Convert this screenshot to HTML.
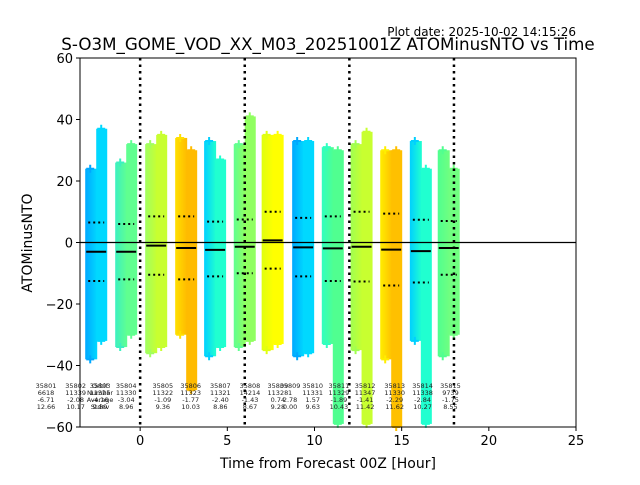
<!DOCTYPE html>
<html><head><meta charset="utf-8"><style>
body{margin:0;background:#fff}
svg text{font-family:"DejaVu Sans","Liberation Sans",sans-serif}
</style></head><body>
<svg id="chart" width="640" height="480" viewBox="0 0 640 480" xmlns="http://www.w3.org/2000/svg">
<text x="576" y="36" font-size="12" text-anchor="end">Plot date: 2025-10-02 14:15:26</text>
<text x="328" y="50" font-size="16.7" text-anchor="middle">S-O3M_GOME_VOD_XX_M03_20251001Z ATOMinusNTO vs Time</text>
<text x="328" y="468" font-size="14" text-anchor="middle">Time from Forecast 00Z [Hour]</text>
<text transform="translate(32,243) rotate(-90)" font-size="14" text-anchor="middle">ATOMinusNTO</text>
<defs id="defs"></defs>
<g id="marks"></g>
<g id="axes"></g>
</svg>
<script>
const hours=[-2.52,-0.8,0.92,2.64,4.3,6.0,7.6,9.35,11.05,12.7,14.4,16.1,17.7];
const means=[-3,-3,-1,-1.8,-2.4,-1.4,0.7,-1.6,-1.9,-1.4,-2.3,-2.8,-1.8];
const stdUp=[6.5,6,8.5,8.5,6.8,7.5,10,8,8.5,10,9.4,7.4,7];
const stdDn=[-12.5,-12,-10.5,-12,-11,-10,-8.5,-11,-12.5,-12.7,-14,-13,-10.5];
const topL=[24,26,32,34,33,32,35,33,31,32,30,33,30];
const botL=[-38,-34,-36,-30,-37,-34,-35,-37,-33,-35,-38,-32,-37];
const topR=[37,32,35,30,27,41,35,33,30,36,30,24,24];
const botR=[-32,-30,-34,-48,-34,-32,-33,-36,-59,-59,-60,-59,-30];
const colL=["#00a8ff","#3cf0c0","#a0ff60","#ffe000","#00d0ff","#60ff90","#e0ff10","#00a8ff","#30ffc0","#a0ff50","#ffee00","#00d0ff","#50ff90"];
const colR=["#00d8ff","#60ff90","#c8ff30","#ffbb00","#20ffd0","#90ff60","#ffff00","#00d8ff","#50ff90","#c8ff30","#ffc000","#20ffd0","#70ff80"];
const xTicks=[0,5,10,15,20,25];
const yTicks=[-60,-40,-20,0,20,40,60];
const vLines=[0,6,12,18];
const orbits=["35801","35802","35803","35804","35805","35806","35807","35808","35809","35809","35810","35811","35812","35813","35814","35815"];
const counts=["6618","11339","11325","11330","11322","11323","11321","14214","11328","1","11331","11329","11347","11330","11338","9739"];
const avgs=["-6.71","-2.08","-4.16","-3.04","-1.09","-1.77","-2.40","-1.43","0.74","2.78","1.57","-1.89","-1.41","-2.29","-2.84","-1.75"];
const stds=["12.66","10.17","9.89","8.96","9.36","10.03","8.86","8.67","9.28","0.00","9.63","10.43","11.42","11.62","10.27","8.55"];
const labelHours=[-5.4,-3.7,-2.3,-0.8,1.3,2.9,4.6,6.3,7.9,8.6,9.9,11.4,12.9,14.6,16.2,17.8];

const L=80,R=576,T=58,B=427,xmin=-3.45,xmax=25,ymin=-60,ymax=60;
const X=v=>L+(v-xmin)/(xmax-xmin)*(R-L);
const Y=v=>B-(v-ymin)/(ymax-ymin)*(B-T);
const NS="http://www.w3.org/2000/svg";
const mk=(tag,attrs,parent)=>{const e=document.createElementNS(NS,tag);for(const k in attrs)e.setAttribute(k,attrs[k]);parent.appendChild(e);return e;};
const marks=document.getElementById('marks'),axes=document.getElementById('axes'),defs=document.getElementById('defs');

hours.forEach((h,i)=>{
  const cx=X(h);
  const g=mk('linearGradient',{id:'g'+i,x1:0,x2:1,y1:0,y2:0},defs);
  mk('stop',{offset:0,'stop-color':colL[i]},g);mk('stop',{offset:1,'stop-color':colR[i]},g);
  const grp=mk('g',{},marks);
  
  
  const l=mk('rect',{x:cx-11,y:Y(topL[i]),width:12,height:Y(botL[i])-Y(topL[i]),fill:'url(#g'+i+')'},grp);
  
  
  const r=mk('rect',{x:cx,y:Y(topR[i]),width:11,height:Y(botR[i])-Y(topR[i]),fill:colR[i]},grp);
  
  
  [[cx-6,topL[i],colL[i]],[cx-6,botL[i],colL[i]],[cx+5,topR[i],colR[i]],[cx+5,botR[i],colR[i]]].forEach(p=>{
    const y=Y(p[1]);
    mk('path',{d:`M${p[0]-4},${y}h8M${p[0]},${y-4}v8`,stroke:p[2],'stroke-width':2},grp);
  });
  const m=mk('line',{x1:cx-10,x2:cx+10,y1:Y(means[i]),y2:Y(means[i]),stroke:'#000','stroke-width':2},grp);
  
  
  [stdUp[i],stdDn[i]].forEach(s=>{
    const d=mk('line',{x1:cx-8,x2:cx+8,y1:Y(s),y2:Y(s),stroke:'#000','stroke-width':2,'stroke-dasharray':'2,3'},grp);
    
    
  });
});
const z=mk('line',{x1:L,x2:R,y1:Y(0),y2:Y(0),stroke:'#000','stroke-width':1.2},axes);


vLines.forEach(v=>{
  const e=mk('line',{x1:X(v),x2:X(v),y1:T,y2:B,stroke:'#000','stroke-width':2.5,'stroke-dasharray':'2.5,4'},axes);
  
  
});
const rowsY=[388,395,402,409];
[orbits,counts,avgs,stds].forEach((arr,r)=>{
  arr.forEach((s,i)=>{
    const t=mk('text',{x:X(labelHours[i]),y:rowsY[r],'font-size':6.5,'text-anchor':'middle',fill:'#222'},axes);
    t.textContent=s;
    
    
  });
});
["Orbit","Number","Average","Stdev"].forEach((s,r)=>{
  const t=mk('text',{x:X(-2.3),y:rowsY[r],'font-size':6.5,'text-anchor':'middle',fill:'#222'},axes);
  t.textContent=s;
  
  
});
const fr=mk('rect',{x:L,y:T,width:R-L,height:B-T,fill:'none',stroke:'#000','stroke-width':1},axes);


xTicks.forEach(v=>{
  mk('line',{x1:X(v),x2:X(v),y1:B,y2:B+4,stroke:'#000'},axes);
  const t=mk('text',{x:X(v),y:B+18,'font-size':13,'text-anchor':'middle'},axes);
  t.textContent=v;
  
  
});
yTicks.forEach(v=>{
  mk('line',{x1:L-4,x2:L,y1:Y(v),y2:Y(v),stroke:'#000'},axes);
  const t=mk('text',{x:L-7,y:Y(v)+5,'font-size':13,'text-anchor':'end'},axes);
  t.textContent=v<0?'\u2212'+(-v):v;
  
  
});
</script>
</body></html>
